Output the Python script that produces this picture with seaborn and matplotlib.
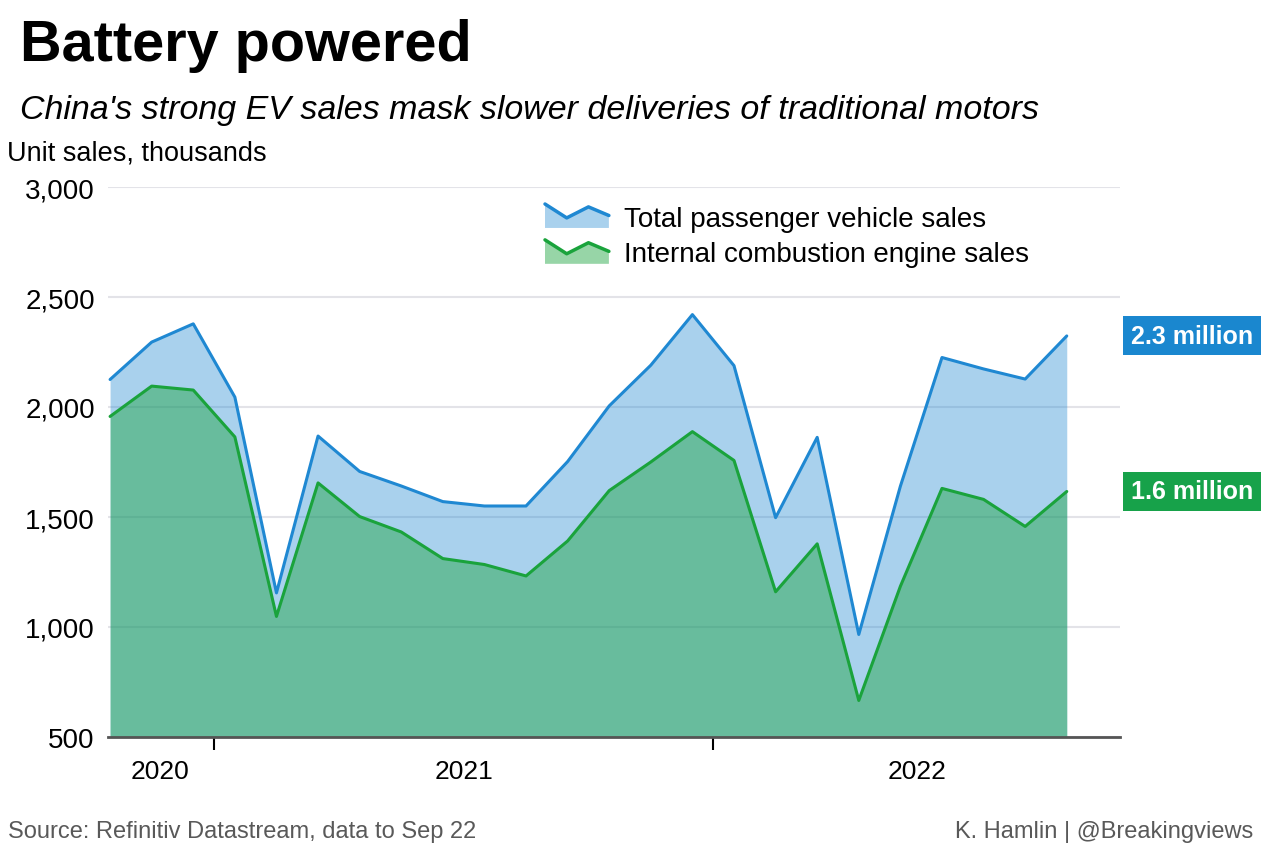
import numpy as np
import pandas as pd
import seaborn as sns
import matplotlib.pyplot as plt
from matplotlib.legend_handler import HandlerBase
from matplotlib.patches import Polygon, Patch
from matplotlib.lines import Line2D
from matplotlib.transforms import blended_transform_factory

# monthly data, Oct 2020 - Sep 2022 (thousand units)
months = ['Oct 2020', 'Nov 2020', 'Dec 2020',
          'Jan 2021', 'Feb 2021', 'Mar 2021', 'Apr 2021', 'May 2021', 'Jun 2021',
          'Jul 2021', 'Aug 2021', 'Sep 2021', 'Oct 2021', 'Nov 2021', 'Dec 2021',
          'Jan 2022', 'Feb 2022', 'Mar 2022', 'Apr 2022', 'May 2022', 'Jun 2022',
          'Jul 2022', 'Aug 2022', 'Sep 2022']
total = [2125, 2295, 2378, 2045, 1155, 1868, 1707, 1641, 1570, 1550, 1550, 1752,
         2005, 2190, 2420, 2188, 1497, 1862, 966, 1640, 2225, 2173, 2127, 2323]
ice = [1957, 2095, 2077, 1864, 1048, 1655, 1502, 1432, 1311, 1284, 1232, 1391,
       1620, 1750, 1888, 1757, 1160, 1378, 666, 1185, 1630, 1580, 1457, 1616]
years = ['2020', '2021', '2022']
yticks = [500, 1000, 1500, 2000, 2500, 3000]

df = pd.DataFrame({'month': months, 'total': total, 'ice': ice})
df['pos'] = np.arange(len(df))

BLUE = '#1f88d2'
GREEN = '#1aa33c'

sns.set_theme(style='white')
plt.rcParams['font.family'] = ['Liberation Sans', 'DejaVu Sans']
plt.rcParams['text.color'] = 'black'


class ZigzagHandler(HandlerBase):
    def __init__(self, line_color, fill_color, alpha):
        super().__init__()
        self.line_color = line_color
        self.fill_color = fill_color
        self.alpha = alpha

    def create_artists(self, legend, orig_handle, xdescent, ydescent,
                       width, height, fontsize, trans):
        xs = np.array([0.0, 0.34, 0.68, 1.0]) * width - xdescent
        ys = np.array([1.0, 0.42, 0.88, 0.52]) * height - ydescent
        pts = [(xs[0], -ydescent)] + list(zip(xs, ys)) + [(xs[-1], -ydescent)]
        poly = Polygon(pts, closed=True, fc=self.fill_color, ec='none',
                       alpha=self.alpha, transform=trans)
        line = Line2D(xs, ys, color=self.line_color, lw=2.5, transform=trans)
        return [poly, line]


fig = plt.figure(figsize=(12.8, 8.53), dpi=100)
ax = fig.add_axes([108 / 1280, 1 - 738 / 853, (1120 - 108) / 1280, (738 - 188) / 853])

# areas
ax.fill_between(df['pos'], 500, df['total'], color=BLUE, alpha=0.38, lw=0, zorder=2)
ax.fill_between(df['pos'], 500, df['ice'], color=GREEN, alpha=0.45, lw=0, zorder=3)
sns.lineplot(data=df, x='pos', y='total', color=BLUE, lw=2.2, ax=ax, zorder=4)
sns.lineplot(data=df, x='pos', y='ice', color=GREEN, lw=2.2, ax=ax, zorder=4)

ax.set_xlim(-0.05, 24.28)
ax.set_ylim(500, 3000)
ax.set_xlabel('')
ax.set_ylabel('')

# y axis
ax.set_yticks(yticks)
ax.set_yticklabels([f'{v:,}' for v in yticks])
ax.tick_params(axis='y', length=0, pad=9.5, labelsize=20, labelcolor='black')
ax.yaxis.grid(True, color='#e3e3e8', lw=1.5)
ax.set_axisbelow(True)
for s in ['left', 'right', 'top']:
    ax.spines[s].set_visible(False)
ax.spines['bottom'].set_color('#555555')
ax.spines['bottom'].set_linewidth(2)
ax.spines['bottom'].set_zorder(5)

# x axis: year boundaries as ticks, year names centred
ax.set_xticks([2.5, 14.5])
ax.set_xticklabels([])
ax.set_xticks([1.2, 8.5, 19.4], minor=True)
ax.set_xticklabels(years, minor=True)
ax.tick_params(axis='x', which='major', length=9.5, width=1.5, color='black',
               direction='out', bottom=True)
ax.tick_params(axis='x', which='minor', length=0, pad=16, labelsize=19,
               labelcolor='black', bottom=True)

# legend
h_total = Patch()
h_ice = Patch()
ax.legend([h_total, h_ice],
          ['Total passenger vehicle sales', 'Internal combustion engine sales'],
          handler_map={h_total: ZigzagHandler(BLUE, BLUE, 0.38),
                       h_ice: ZigzagHandler(GREEN, GREEN, 0.45)},
          loc='upper left', bbox_to_anchor=(545 / 1280, 1 - 205 / 853),
          bbox_transform=fig.transFigure, frameon=False, fontsize=20,
          handlelength=2.3, handleheight=0.95, handletextpad=0.55,
          labelspacing=0.3, borderpad=0, borderaxespad=0)

# end-value labels
tr = blended_transform_factory(fig.transFigure, ax.transData)
ax.text(1192 / 1280, total[-1], f'{total[-1] / 1000:.1f} million', transform=tr,
        ha='center', va='center', color='white', fontsize=18, fontweight='bold',
        bbox=dict(boxstyle='square,pad=0.3', fc='#1a87cf', ec='none'))
ax.text(1192 / 1280, ice[-1], f'{ice[-1] / 1000:.1f} million', transform=tr,
        ha='center', va='center', color='white', fontsize=18, fontweight='bold',
        bbox=dict(boxstyle='square,pad=0.3', fc='#17a24a', ec='none'))

# titles and notes
fig.text(20 / 1280, 1 - 46 / 853, 'Battery powered', fontsize=41.5,
         fontweight='bold', va='center', ha='left')
fig.text(20 / 1280, 1 - 110 / 853,
         "China's strong EV sales mask slower deliveries of traditional motors",
         fontsize=24.5, style='italic', va='center', ha='left')
fig.text(7 / 1280, 1 - 153 / 853, 'Unit sales, thousands', fontsize=19.5,
         va='center', ha='left')
fig.text(8 / 1280, 1 - 832 / 853, 'Source: Refinitiv Datastream, data to Sep 22',
         fontsize=17, color='#595959', va='center', ha='left')
fig.text(1253 / 1280, 1 - 832 / 853, 'K. Hamlin | @Breakingviews',
         fontsize=17, color='#595959', va='center', ha='right')

fig.savefig('out.png', dpi=100, facecolor='white')
